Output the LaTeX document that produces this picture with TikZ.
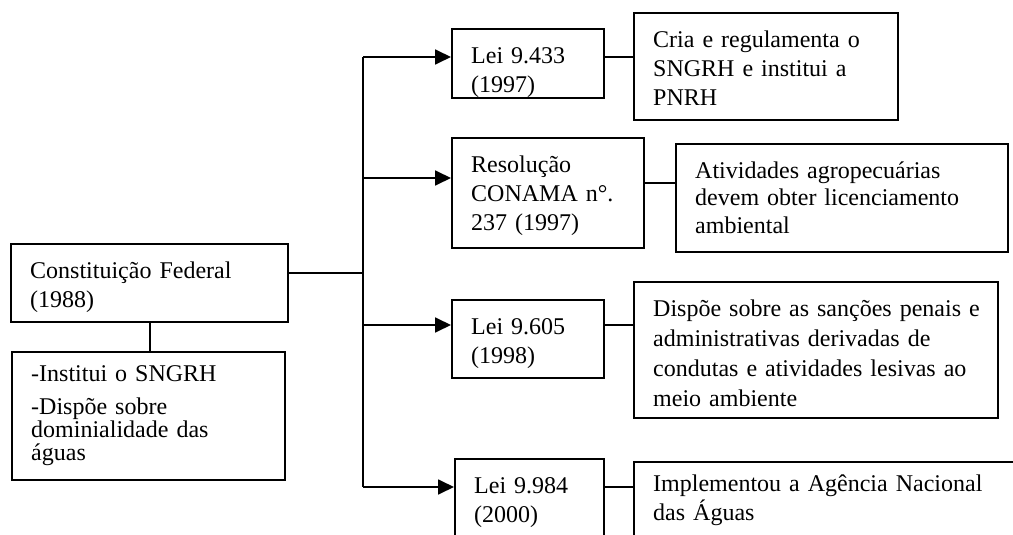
\documentclass[tikz,border=0pt]{standalone}
\usepackage{fontspec}
\setmainfont{Liberation Serif}
\usepackage{tikz}
\usetikzlibrary{arrows.meta}

\tikzset{
  doc/.style={draw, line width=1.2pt, anchor=north west, align=left,
    inner xsep=5pt, inner ysep=0pt, text height=17pt,
    execute at begin node={\leftskip=4.5pt},
    font=\fontsize{12pt}{14.5pt}\selectfont},
  link/.style={line width=0.9pt},
  feed/.style={link, -{Triangle[length=8pt,width=7.5pt]}},
}

\begin{document}
\begin{tikzpicture}[x=0.5pt, y=-0.5pt]
    \clip (0,0) rectangle (1013,535);
    \node[doc, text width=128.5pt, text depth=22pt] (cf) at (10,243)
      {Constituição Federal\\(1988)};
    \node[doc, text width=126.5pt, text height=14.5pt, text depth=49.5pt,
      font=\fontsize{12pt}{11.5pt}\selectfont] (inst) at (11,351)
      {-Institui o SNGRH\\[5pt]-Dispõe sobre\\dominialidade das\\águas};
    \node[doc, text width=66pt, text depth=17.5pt] (lei1) at (451,28)
      {Lei 9.433\\(1997)};
    \node[doc, text width=86pt, text depth=38pt] (res) at (451,137)
      {Resolução\\CONAMA n°.\\237 (1997)};
    \node[doc, text width=66pt, text depth=22pt] (lei2) at (451,299)
      {Lei 9.605\\(1998)};
    \node[doc, text width=64.5pt, text depth=28pt] (lei3) at (454,458)
      {Lei 9.984\\(2000)};
    \node[doc, text width=122pt, text depth=36.5pt] (cria) at (633,12)
      {Cria e regulamenta o\\SNGRH e institui a\\PNRH};
    \node[doc, text width=156pt, text depth=37pt,
      font=\fontsize{12pt}{13.75pt}\selectfont] (ativ) at (675,143)
      {Atividades agropecuárias\\devem obter licenciamento\\ambiental};
    \node[doc, text width=172pt, text depth=51pt,
      font=\fontsize{12pt}{15pt}\selectfont] (disp) at (633,281)
      {Dispõe sobre as sanções penais e\\administrativas derivadas de\\condutas e atividades lesivas ao\\meio ambiente};
    \node[doc, text width=190pt, text height=14.5pt, text depth=35.5pt] (impl) at (633,461)
      {Implementou a Agência Nacional\\das Águas};

    \coordinate (r1) at (363,57);
    \coordinate (r2) at (363,178);
    \coordinate (r3) at (363,325);
    \coordinate (r4) at (363,487);

    \draw[link] (cf.south) -- (cf.south |- inst.north);
    \draw[link] ([yshift=5pt]cf.east) -- ([yshift=5pt]cf.east -| r1);
    \draw[link] (r1) -- (r4);
    \draw[feed] (r1) -- (r1 -| lei1.west);
    \draw[feed] (r2) -- (r2 -| res.west);
    \draw[feed] (r3) -- (r3 -| lei2.west);
    \draw[feed] (r4) -- (r4 -| lei3.west);

    \draw[link] (r1 -| lei1.east) -- (r1 -| cria.west);
    \draw[link] ([yshift=7.5pt]ativ.west -| res.east) -- ([yshift=7.5pt]ativ.west);
    \draw[link] (r3 -| lei2.east) -- (r3 -| disp.west);
    \draw[link] (r4 -| lei3.east) -- (r4 -| impl.west);
\end{tikzpicture}
\end{document}
